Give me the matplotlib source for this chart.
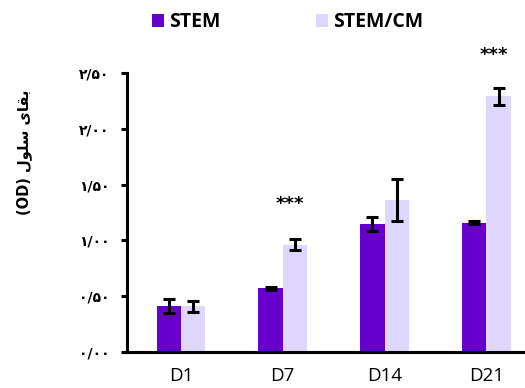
import matplotlib
matplotlib.use("Agg")
import matplotlib.pyplot as plt
import numpy as np

categories = ["D1", "D7", "D14", "D21"]
stem = [0.41, 0.57, 1.15, 1.16]
stem_err = [0.065, 0.012, 0.063, 0.012]
stem_cm = [0.41, 0.96, 1.36, 2.29]
stem_cm_err = [0.05, 0.05, 0.19, 0.08]
yticks = [0, 0.5, 1.0, 1.5, 2.0, 2.5]
ytick_labels = ["۰/۰۰", "۰/۵۰", "۱/۰۰", "۱/۵۰", "۲/۰۰", "۲/۵۰"]
sig_labels = ["", "***", "", "***"]
sig_levels = [0, 1.33, 0, 2.66]
series_names = ["STEM", "STEM/CM"]
# y label: "بقای سلول (OD)" written in visual order with Arabic presentation forms
ylabel = "(OD) " + "\u0644\uFEEE\uFEE0\uFEB3" + " " + "\u06CC\uFE8E\uFED8\uFE91"

c_dark = "#6600CC"
c_light = "#DFD7FF"

fig = plt.figure(figsize=(5.25, 3.88), dpi=100)
ax = fig.add_axes([0.242, 0.0928, 0.758, 0.719])

x = np.arange(len(categories))
w = 0.24
eb = dict(ecolor="black", elinewidth=2.2, capsize=4.3, capthick=2.2)
b1 = ax.bar(x - w / 2, stem, w, color=c_dark, yerr=stem_err, error_kw=eb,
            label=series_names[0], zorder=2)
b2 = ax.bar(x + w / 2, stem_cm, w, color=c_light, yerr=stem_cm_err, error_kw=eb,
            label=series_names[1], zorder=2)

for xi, s, lv in zip(x, sig_labels, sig_levels):
    if s:
        ax.text(xi + w / 2 - 0.05, lv, s, ha="center", va="center",
                fontsize=13, fontweight="bold", family="DejaVu Sans", clip_on=False)

ax.set_xlim(-0.53, 3.38)
ax.set_ylim(0, 2.5)
ax.set_yticks(yticks)
ax.set_yticklabels(ytick_labels, family="DejaVu Sans", fontweight="bold", fontsize=10)
ax.set_xticks(x)
ax.set_xticklabels(categories, family="Open Sans", fontsize=13.5)
ax.tick_params(axis="y", direction="out", length=4.5, width=2.2, pad=8)
ax.tick_params(axis="x", length=0, pad=11)
for side in ["top", "right"]:
    ax.spines[side].set_visible(False)
for side in ["left", "bottom"]:
    ax.spines[side].set_linewidth(2.2)

fig.text(0.046, 0.608, ylabel, rotation=90, ha="center", va="center",
         family="DejaVu Sans", fontweight="bold", fontsize=10.5)

fig.legend(handles=[b1, b2], labels=series_names, loc="center",
           bbox_to_anchor=(0.548, 0.943), ncol=2, frameon=False,
           prop=dict(family="Open Sans", weight="bold", size=14),
           handlelength=0.62, handleheight=0.62, handletextpad=0.26,
           columnspacing=4.9, borderaxespad=0)

fig.savefig("out.png", dpi=100)
